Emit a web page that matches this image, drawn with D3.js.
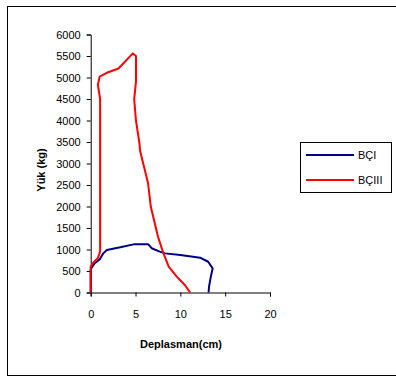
<!DOCTYPE html>
<html><head><meta charset="utf-8">
<script src="https://cdn.jsdelivr.net/npm/d3@7"></script>
<style>body{margin:0;background:#fff}svg{display:block}text{font-family:"Liberation Sans",Arial,sans-serif}</style>
</head><body>
<script>
const xTicks = [0, 5, 10, 15, 20];
const yTicks = [0, 500, 1000, 1500, 2000, 2500, 3000, 3500, 4000, 4500, 5000, 5500, 6000];
const seriesNames = ["BÇI", "BÇIII"];
const seriesColors = ["#000080", "#FF0000"];
const bciX = [0, 0, 0.45, 1.0, 1.4, 1.8, 3.3, 4.9, 6.4, 6.8, 7.7, 8.3, 10.0, 12.2, 13.1, 13.6, 13.4, 13.2, 13.15];
const bciY = [0, 540, 680, 770, 910, 990, 1050, 1125, 1125, 1030, 950, 910, 870, 810, 715, 560, 370, 135, 0];
const bciiiX = [0, 0, 0.3, 0.8, 1.05, 1.05, 0.8, 1.0, 1.8, 3.1, 4.7, 5.05, 5.05, 4.85, 5.05, 5.45, 5.5, 6.4, 6.7, 7.5, 8.1, 8.7, 9.6, 10.5, 11.1];
const bciiiY = [0, 600, 700, 800, 950, 4500, 4830, 5020, 5110, 5210, 5560, 5500, 4900, 4500, 4000, 3450, 3300, 2540, 2000, 1300, 920, 600, 370, 175, 0];

const W = 396, H = 378;
const svg = d3.select("body").append("svg").attr("width", W).attr("height", H);
svg.append("rect").attr("x", 7.5).attr("y", 6.5).attr("width", 400).attr("height", 369)
  .attr("fill", "#fff").attr("stroke", "#000").attr("stroke-width", 1);

const x = d3.scaleLinear().domain([0, 20]).range([90.7, 270]);
const y = d3.scaleLinear().domain([0, 6000]).range([292.5, 34.5]);

const gx = svg.append("g").attr("transform", `translate(0,${y(0)})`)
  .call(d3.axisBottom(x).tickValues(xTicks).tickFormat(d3.format("d")).tickSize(4).tickPadding(14));
const gy = svg.append("g").attr("transform", `translate(${x(0)},0)`)
  .call(d3.axisLeft(y).tickValues(yTicks).tickFormat(d3.format("d")).tickSize(4).tickPadding(6));
[gx, gy].forEach(g => {
  g.selectAll("text").attr("font-size", 11).attr("fill", "#000").attr("font-family", "Liberation Sans, Arial, sans-serif");
  g.selectAll("path,line").attr("stroke", "#000");
});

const line = d3.line().x(d => x(d[0])).y(d => y(d[1]));
const data = [d3.zip(bciX, bciY), d3.zip(bciiiX, bciiiY)];
data.forEach((d, i) => {
  svg.append("path").datum(d).attr("d", line).attr("fill", "none")
    .attr("stroke", seriesColors[i]).attr("stroke-width", 2).attr("stroke-linejoin", "round");
});

svg.append("text").attr("x", 181).attr("y", 348).attr("text-anchor", "middle")
  .attr("font-size", 11).attr("font-weight", "bold").text("Deplasman(cm)");
svg.append("text").attr("transform", "translate(45,170) rotate(-90)").attr("text-anchor", "middle")
  .attr("font-size", 11).attr("font-weight", "bold").text("Yük (kg)");

const lg = svg.append("g");
lg.append("rect").attr("x", 300.5).attr("y", 142.5).attr("width", 91).attr("height", 50)
  .attr("fill", "#fff").attr("stroke", "#000");
seriesNames.forEach((n, i) => {
  const yy = 155 + i * 25;
  lg.append("line").attr("x1", 306).attr("x2", 354).attr("y1", yy).attr("y2", yy)
    .attr("stroke", seriesColors[i]).attr("stroke-width", 2);
  lg.append("text").attr("x", 358).attr("y", yy + 4).attr("font-size", 11).text(n);
});
</script>
</body></html>
